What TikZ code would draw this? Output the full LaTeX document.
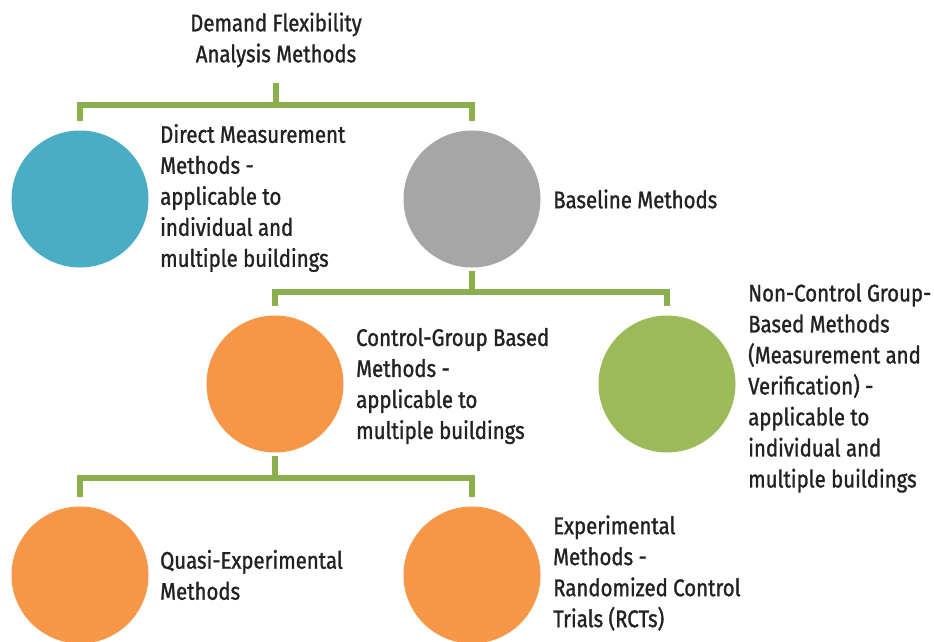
\documentclass[tikz,border=0pt]{standalone}
\usepackage{fontspec}
\setmainfont{Fira Sans}[FakeStretch=0.85, FakeBold=1.2]
\definecolor{lineg}{HTML}{8CAF4E}
\definecolor{cblue}{HTML}{4BACC6}
\definecolor{cgray}{HTML}{A6A6A6}
\definecolor{corange}{HTML}{F79646}
\definecolor{cgreen}{HTML}{9BBB59}
\definecolor{txt}{HTML}{222222}
\tikzset{
  conn/.style={draw=lineg, line width=6pt, line cap=butt, line join=miter},
  dot/.style={circle, minimum size=137pt, inner sep=0pt, draw=none},
  lbl/.style={anchor=west, align=left, inner sep=0pt, text=txt,
    font=\fontsize{24pt}{31pt}\selectfont},
}
\begin{document}
\begin{tikzpicture}[x=1pt,y=-1pt]
\useasboundingbox (0,0) rectangle (934,642);
% title
\node[lbl, anchor=center, align=center] (title) at (276,40) {Demand Flexibility\\Analysis Methods};
% circles
\node[dot, fill=cblue] (blue) at (80,199) {};
\node[dot, fill=cgray] (gray) at (472,199) {};
\node[dot, fill=corange] (ctrl) at (275,384) {};
\node[dot, fill=cgreen] (green) at (667,384) {};
\node[dot, fill=corange] (quasi) at (80,575) {};
\node[dot, fill=corange] (exper) at (472,575) {};
% labels
\node[lbl] (tblue) at (160,198) {Direct Measurement\\Methods -\\applicable to\\individual and\\multiple buildings};
\node[lbl] (tgray) at (553,199) {Baseline Methods};
\node[lbl] (tctrl) at (356,386) {Control-Group Based\\Methods -\\applicable to\\multiple buildings};
\node[lbl] (tgreen) at (748,388) {Non-Control Group-\\Based Methods\\(Measurement and\\Verification) -\\applicable to\\individual and\\multiple buildings};
\node[lbl] (tquasi) at (160,575) {Quasi-Experimental\\Methods};
\node[lbl] (texper) at (553,573) {Experimental\\Methods -\\Randomized Control\\Trials (RCTs)};
% joints
\coordinate (j1) at (276,105);
\coordinate (j2) at (472,292);
\coordinate (j3) at (275,478);
% connectors
\draw[conn] ([yshift=-15pt]title.south) -- (j1);
\draw[conn] ([yshift=9pt]blue.north) |- (j1) -| ([yshift=9pt]gray.north);
\draw[conn] ([yshift=-3pt]gray.south) -- (j2);
\draw[conn] ([yshift=9pt]ctrl.north) |- (j2) -| ([yshift=9pt]green.north);
\draw[conn] ([yshift=-3pt]ctrl.south) -- (j3);
\draw[conn] ([yshift=9pt]quasi.north) |- (j3) -| ([yshift=9pt]exper.north);
\end{tikzpicture}
\end{document}
